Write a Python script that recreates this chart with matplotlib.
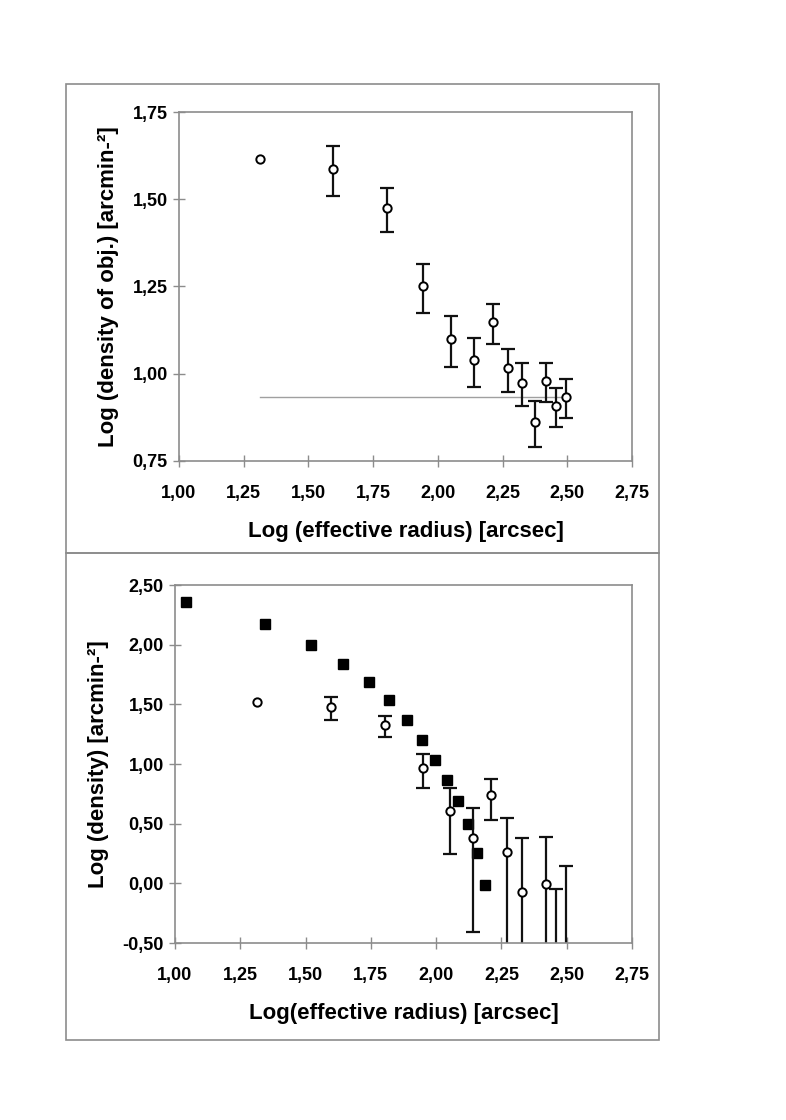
import numpy as np
import matplotlib
matplotlib.use("Agg")
import matplotlib.pyplot as plt
from matplotlib.patches import Rectangle
from matplotlib.ticker import FuncFormatter

plt.rcParams['font.family'] = ['Liberation Sans', 'DejaVu Sans']
plt.rcParams['font.weight'] = 'bold'

# top panel: density of objects vs effective radius (nan = no error bar)
x_top = [1.312, 1.596, 1.802, 1.944, 2.052, 2.139, 2.212, 2.272, 2.326, 2.375, 2.418, 2.457, 2.495]
y_top = [1.615, 1.587, 1.475, 1.251, 1.100, 1.039, 1.147, 1.017, 0.973, 0.861, 0.980, 0.908, 0.933]
hi_top = [np.nan, 1.652, 1.532, 1.314, 1.166, 1.103, 1.200, 1.072, 1.030, 0.921, 1.030, 0.960, 0.984]
lo_top = [np.nan, 1.508, 1.406, 1.175, 1.020, 0.962, 1.086, 0.949, 0.908, 0.790, 0.920, 0.847, 0.873]
bg_level = 0.933
bg_x = [1.312, 2.50]

# bottom panel: open circles (with errors) and filled squares
x_circ = [1.314, 1.596, 1.805, 1.950, 2.054, 2.140, 2.211, 2.273, 2.328, 2.420, 2.459, 2.499]
y_circ = [1.517, 1.478, 1.327, 0.969, 0.606, 0.377, 0.740, 0.262, -0.075, -0.008, -0.75, -0.65]
hi_circ = [np.nan, 1.559, 1.405, 1.086, 0.796, 0.634, 0.872, 0.547, 0.382, 0.388, -0.048, 0.148]
lo_circ = [np.nan, 1.371, 1.224, 0.799, 0.246, -0.405, 0.533, -1.5, -1.5, -1.5, -1.5, -1.5]

x_sq = [1.042, 1.3435, 1.520, 1.643, 1.742, 1.821, 1.887, 1.945, 1.996, 2.040, 2.085, 2.122, 2.155, 2.188]
y_sq = [2.360, 2.173, 1.995, 1.836, 1.685, 1.537, 1.371, 1.199, 1.034, 0.863, 0.687, 0.495, 0.257, -0.017]

x_ticks = [1.00, 1.25, 1.50, 1.75, 2.00, 2.25, 2.50, 2.75]
y_ticks_top = [0.75, 1.00, 1.25, 1.50, 1.75]
y_ticks_bot = [-0.50, 0.00, 0.50, 1.00, 1.50, 2.00, 2.50]

comma = FuncFormatter(lambda v, p: f"{v:.2f}".replace(".", ","))

fig = plt.figure(figsize=(7.86, 11.2), dpi=100)

# outer frames of the two panels
for (x0, y0, x1, y1) in [(66, 84, 659, 553), (66, 553, 659, 1040)]:
    fig.add_artist(Rectangle((x0 / 786, 1 - y1 / 1120), (x1 - x0) / 786, (y1 - y0) / 1120,
                             transform=fig.transFigure, fill=False, ec='#8c8c8c', lw=1.2))


def style(ax, yticks, ylim):
    ax.set_xlim(1.0, 2.75)
    ax.set_ylim(*ylim)
    ax.set_xticks(x_ticks)
    ax.set_yticks(yticks)
    ax.xaxis.set_major_formatter(comma)
    ax.yaxis.set_major_formatter(comma)
    for s in ax.spines.values():
        s.set_color('#8c8c8c')
        s.set_linewidth(1.2)
    ax.tick_params(direction='inout', length=8, width=1, color='#8c8c8c', labelsize=13)
    ax.tick_params(axis='x', pad=13)
    ax.tick_params(axis='y', pad=4)


def points(ax, x, y, lo, hi):
    x, y, lo, hi = map(np.array, (x, y, lo, hi))
    m = ~np.isnan(lo)
    ax.errorbar(x[m], y[m], yerr=[y[m] - lo[m], hi[m] - y[m]], fmt='none', ecolor='#111111',
                elinewidth=1.6, capsize=5, capthick=1.6, zorder=2)
    ax.plot(x, y, 'o', ms=6, mfc='white', mec='black', mew=1.4, zorder=3)


ax1 = fig.add_axes([0.2277, 0.5884, 0.5763, 0.3116])
style(ax1, y_ticks_top, (0.75, 1.75))
ax1.plot(bg_x, [bg_level, bg_level], color='#a0a0a0', lw=1.0, zorder=1)
points(ax1, x_top, y_top, lo_top, hi_top)
ax1.set_xlabel("Log (effective radius) [arcsec]", fontsize=16, fontweight='bold', labelpad=14)
ax1.set_ylabel("Log (density of obj.) [arcmin-²]", fontsize=16, fontweight='bold', labelpad=10)

ax2 = fig.add_axes([0.2226, 0.158, 0.5814, 0.3196])
style(ax2, y_ticks_bot, (-0.5, 2.5))
ax2.plot(x_sq, y_sq, 's', ms=6.5, color='black', zorder=2)
points(ax2, x_circ, y_circ, lo_circ, hi_circ)
ax2.set_xlabel("Log(effective radius) [arcsec]", fontsize=16, fontweight='bold', labelpad=14)
ax2.set_ylabel("Log (density) [arcmin-²]", fontsize=16, fontweight='bold', labelpad=10)

fig.savefig("out.png", dpi=100)
